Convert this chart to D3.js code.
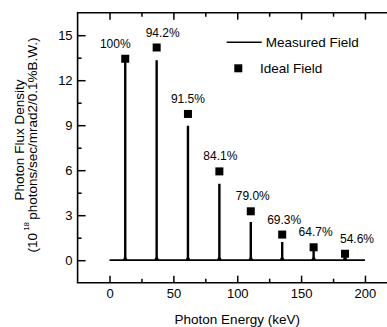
<!DOCTYPE html>
<html>
<head>
<meta charset="utf-8">
<script src="https://cdn.jsdelivr.net/npm/d3@7"></script>
<style>
  body { margin: 0; background: #fff; }
  svg { display: block; font-family: "Liberation Sans", Arial, sans-serif; }
</style>
</head>
<body>
<svg id="chart" width="387" height="327"></svg>
<script>
// harmonic energies (keV), measured peak heights and ideal-field heights
var energies = [12.3, 36.9, 61.4, 86.0, 110.6, 135.2, 159.8, 184.4];
var measured = [13.37, 13.33, 8.97, 5.1, 2.55, 1.21, 0.63, 0.32];
var ideal = [13.43, 14.18, 9.75, 5.92, 3.26, 1.71, 0.86, 0.43];
var ratios = ["100%", "94.2%", "91.5%", "84.1%", "79.0%", "69.3%", "64.7%", "54.6%"];

var xMajor = [0, 50, 100, 150, 200];
var xMinor = [25, 75, 125, 175, 225];
var yMajor = [0, 3, 6, 9, 12, 15];
var yMinor = [1.5, 4.5, 7.5, 10.5, 13.5];

var svg = d3.select("#chart");
var pLeft = 77.6, pTop = 12.7, pRight = 390.5, pBottom = 282.7;

var x = d3.scaleLinear().domain([-25, 220]).range([pLeft, pRight]);
var y = d3.scaleLinear().domain([-1.5, 16.5]).range([pBottom, pTop]);

// ticks (all pointing inward)
function tickAxis(axis, tr) {
  var g = svg.append("g").attr("transform", tr).call(axis);
  g.select(".domain").remove();
  g.selectAll(".tick line").attr("stroke", "#000").attr("stroke-width", 1.5);
  g.selectAll("text").attr("fill", "#000").attr("font-size", 13).attr("font-family", null);
  return g;
}
tickAxis(d3.axisBottom(x).tickValues(xMajor).tickSize(-7).tickPadding(6), "translate(0," + pBottom + ")");
tickAxis(d3.axisBottom(x).tickValues(xMinor).tickSize(-4).tickFormat(""), "translate(0," + pBottom + ")");
tickAxis(d3.axisTop(x).tickValues(xMajor).tickSize(-7).tickFormat(""), "translate(0," + pTop + ")");
tickAxis(d3.axisTop(x).tickValues(xMinor).tickSize(-4).tickFormat(""), "translate(0," + pTop + ")");
tickAxis(d3.axisLeft(y).tickValues(yMajor).tickSize(-8).tickPadding(5), "translate(" + pLeft + ",0)");
tickAxis(d3.axisLeft(y).tickValues(yMinor).tickSize(-4).tickFormat(""), "translate(" + pLeft + ",0)");

// frame
svg.append("path")
  .attr("d", "M" + pRight + "," + pTop + "H" + pLeft + "V" + pBottom + "H" + pRight)
  .attr("fill", "none").attr("stroke", "#000").attr("stroke-width", 1.6);

// baseline
svg.append("line")
  .attr("x1", x(0)).attr("x2", x(200)).attr("y1", y(0)).attr("y2", y(0))
  .attr("stroke", "#000").attr("stroke-width", 1.7);

// measured peaks
svg.append("g").selectAll("path").data(energies).enter().append("path")
  .attr("d", function (e, i) {
    var cx = x(e), b = y(0);
    return "M" + (cx - 2.5) + "," + b + "L" + (cx - 1.2) + "," + (b - 3) + "L" + (cx - 1.2) + "," + y(measured[i]) +
      "L" + (cx + 1.2) + "," + y(measured[i]) + "L" + (cx + 1.2) + "," + (b - 3) + "L" + (cx + 2.5) + "," + b + "Z";
  })
  .attr("fill", "#000");

// ideal field squares
var sq = 8;
svg.append("g").selectAll("rect").data(energies).enter().append("rect")
  .attr("x", function (e) { return x(e) - sq / 2; })
  .attr("y", function (e, i) { return y(ideal[i]) - sq / 2; })
  .attr("width", sq).attr("height", sq).attr("fill", "#000");

// percentage labels
var labelDx = [-10, 6, 0, 1, 2, 2, 2, 12];
svg.append("g").selectAll("text").data(energies).enter().append("text")
  .attr("x", function (e, i) { return x(e) + labelDx[i]; })
  .attr("y", function (e, i) { return y(ideal[i]) - 15; })
  .attr("text-anchor", "middle").attr("dominant-baseline", "central")
  .attr("font-size", 12).text(function (e, i) { return ratios[i]; });

// legend
svg.append("line").attr("x1", 226.7).attr("x2", 261.7).attr("y1", 42.3).attr("y2", 42.3)
  .attr("stroke", "#000").attr("stroke-width", 1.6);
svg.append("text").attr("x", 265.7).attr("y", 42.3).attr("dominant-baseline", "central")
  .attr("font-size", 13.5).text("Measured Field");
svg.append("rect").attr("x", 238.3 - sq / 2).attr("y", 68.3 - sq / 2)
  .attr("width", sq).attr("height", sq).attr("fill", "#000");
svg.append("text").attr("x", 260).attr("y", 68.3).attr("dominant-baseline", "central")
  .attr("font-size", 13.5).text("Ideal Field");

// axis titles
svg.append("text").attr("x", x(100)).attr("y", 319).attr("text-anchor", "middle")
  .attr("dominant-baseline", "central").attr("font-size", 13.5).text("Photon Energy (keV)");

svg.append("text").attr("transform", "translate(19,140) rotate(-90)")
  .attr("text-anchor", "middle").attr("dominant-baseline", "central")
  .attr("font-size", 13.5).text("Photon Flux Density");

var t2 = svg.append("text").attr("transform", "translate(32,145) rotate(-90)")
  .attr("text-anchor", "middle").attr("dominant-baseline", "central").attr("font-size", 13.5);
t2.append("tspan").text("(10");
t2.append("tspan").attr("font-size", 8).attr("dy", -6).text(" 18 ");
t2.append("tspan").attr("dy", 6).text("photons/sec/mrad2/0.1%B.W.)");
</script>
</body>
</html>
